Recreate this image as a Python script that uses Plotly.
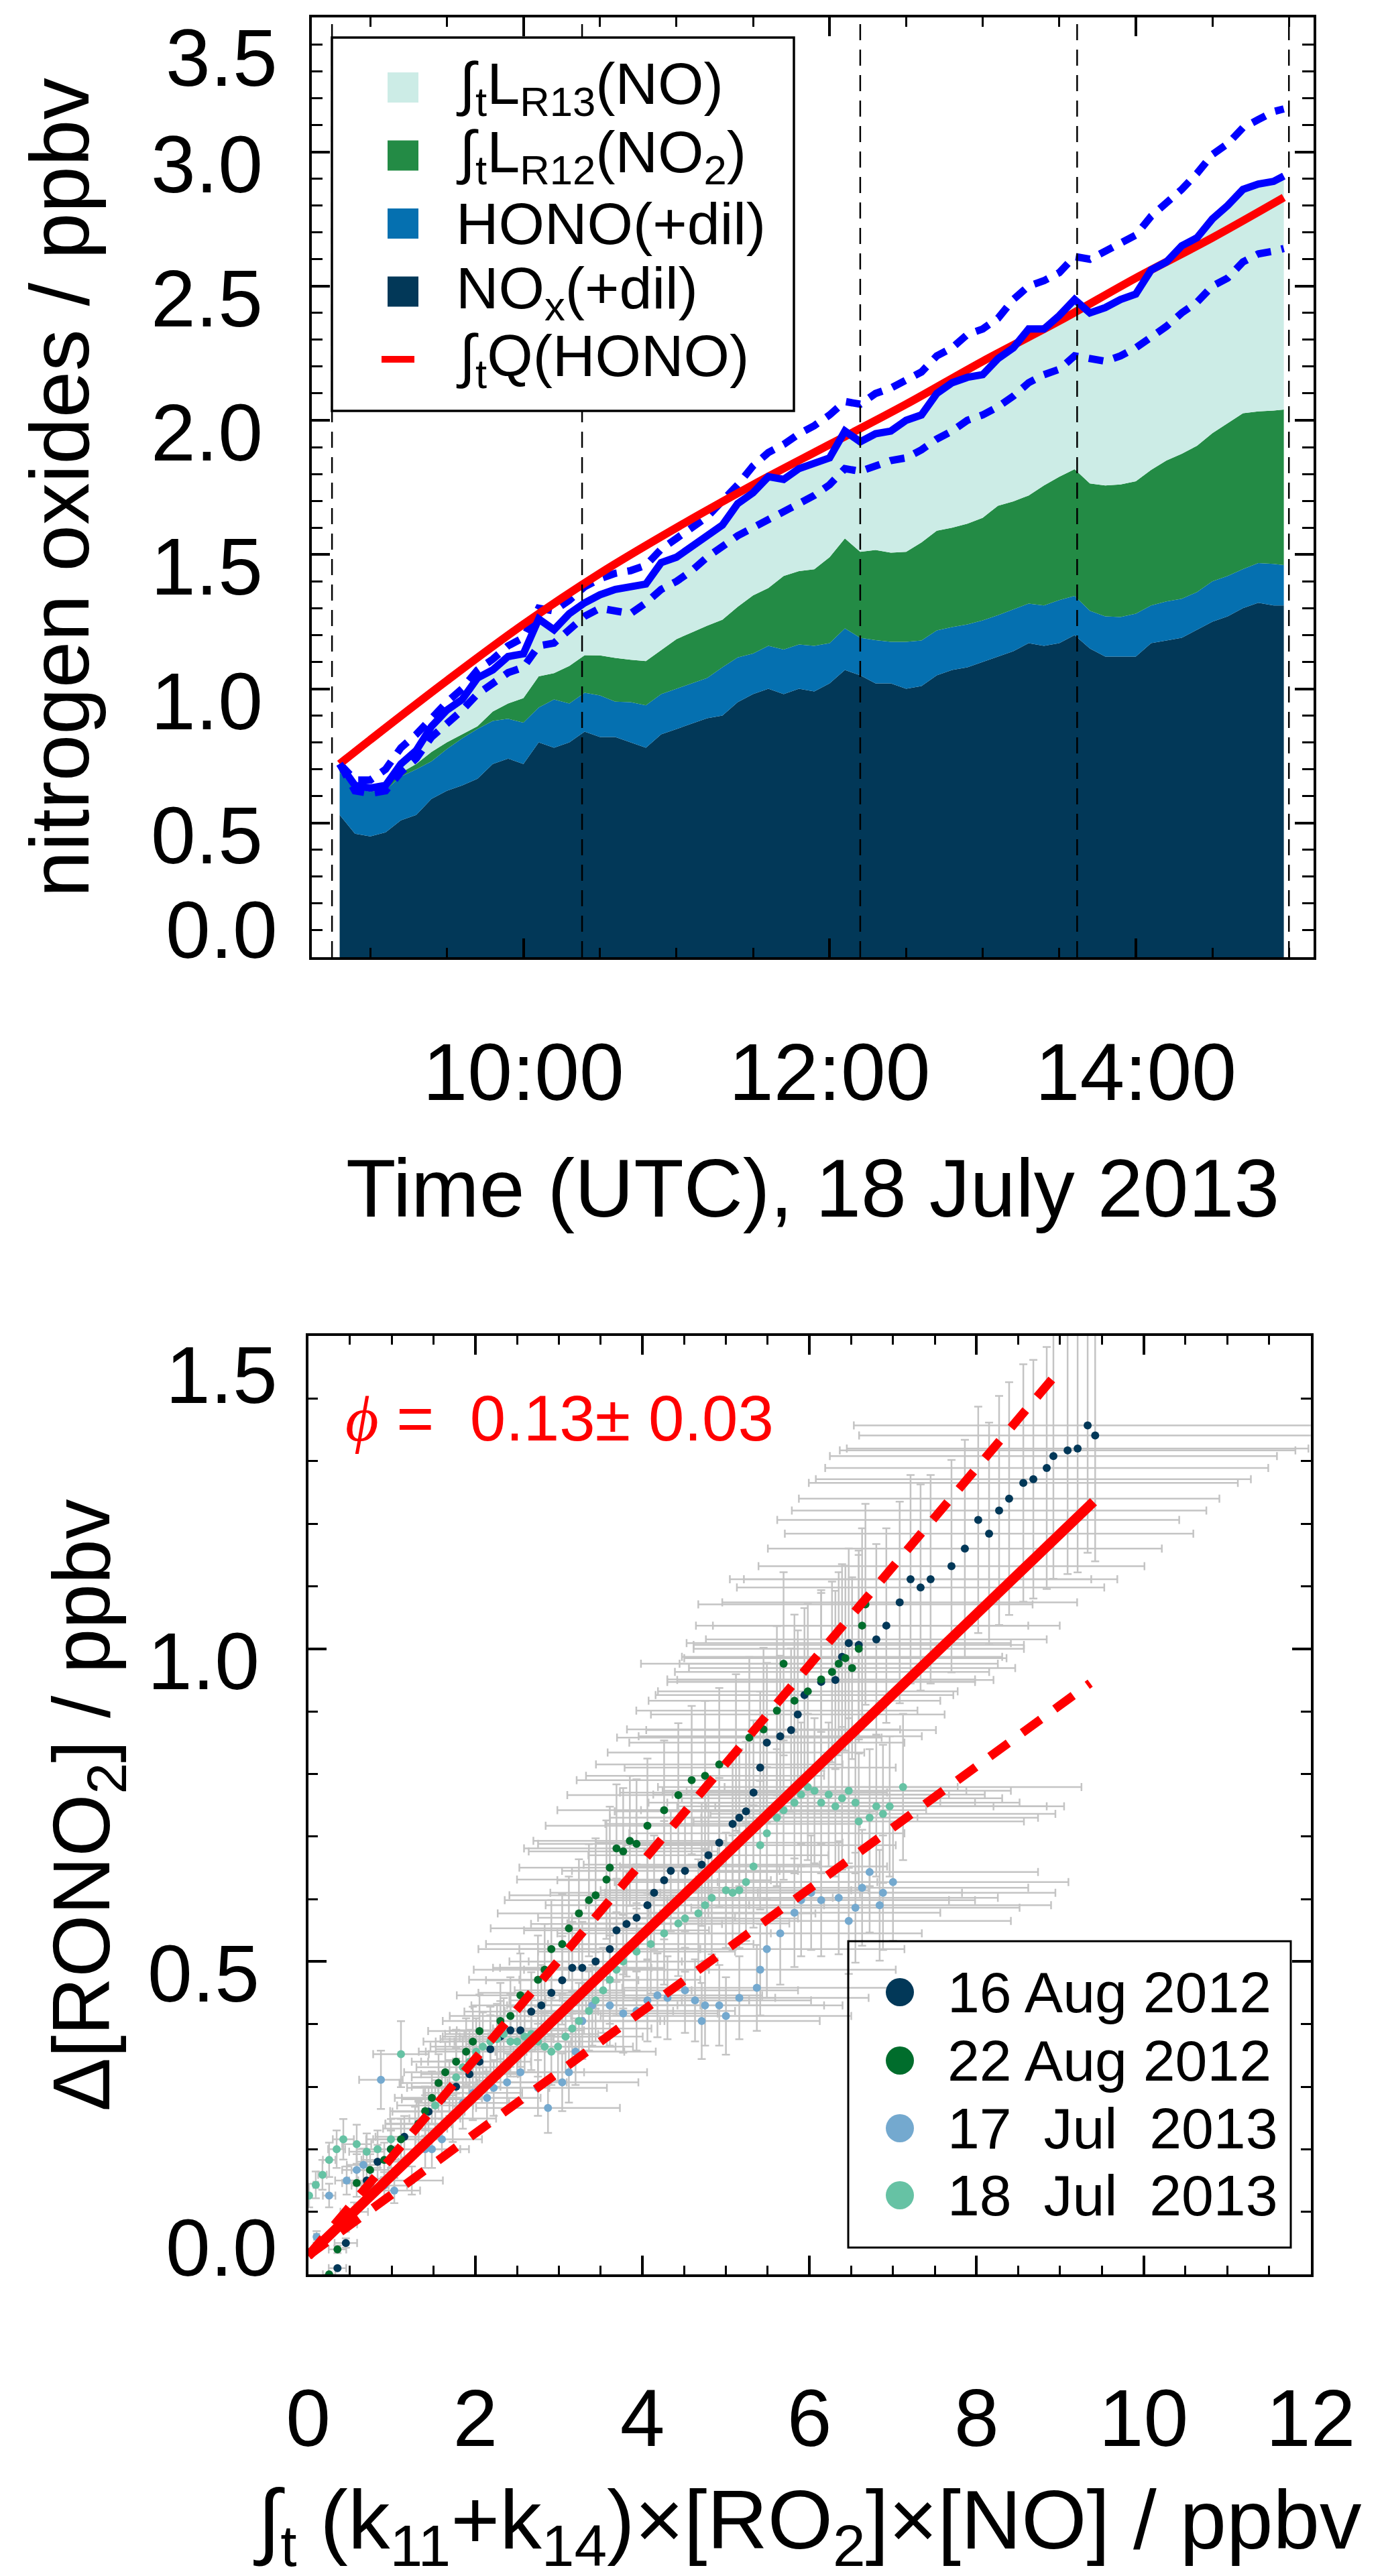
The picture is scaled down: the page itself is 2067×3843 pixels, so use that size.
import plotly.graph_objects as go

# ---------------- top panel data (18 July 2013) ----------------
times = ["08:48", "08:54", "09:00", "09:06", "09:12", "09:18", "09:24", "09:30", "09:36", "09:42",
         "09:48", "09:54", "10:00", "10:06", "10:12", "10:18", "10:24", "10:30", "10:36", "10:42",
         "10:48", "10:54", "11:00", "11:06", "11:12", "11:18", "11:24", "11:30", "11:36", "11:42",
         "11:48", "11:54", "12:00", "12:06", "12:12", "12:18", "12:24", "12:30", "12:36", "12:42",
         "12:48", "12:54", "13:00", "13:06", "13:12", "13:18", "13:24", "13:30", "13:36", "13:42",
         "13:48", "13:54", "14:00", "14:06", "14:12", "14:18", "14:24", "14:30", "14:36", "14:42",
         "14:48", "14:54", "14:58"]

# cumulative tops of the stacked areas (ppbv)
nox_top = [0.53, 0.46, 0.45, 0.465, 0.51, 0.53, 0.59, 0.62, 0.64, 0.665,
           0.72, 0.74, 0.72, 0.80, 0.78, 0.80, 0.84, 0.82, 0.82, 0.80,
           0.78, 0.83, 0.85, 0.87, 0.89, 0.90, 0.95, 0.98, 1.00, 0.98,
           1.00, 0.99, 1.02, 1.07, 1.05, 1.02, 1.02, 1.00, 1.01, 1.05,
           1.07, 1.08, 1.10, 1.12, 1.14, 1.17, 1.16, 1.17, 1.20, 1.15,
           1.12, 1.12, 1.12, 1.17, 1.18, 1.19, 1.22, 1.25, 1.27, 1.30,
           1.32, 1.31, 1.31]
hono_top = [0.687, 0.630, 0.616, 0.623, 0.673, 0.70, 0.73, 0.775, 0.815, 0.85,
            0.88, 0.888, 0.874, 0.93, 0.96, 0.945, 0.985, 0.975, 0.952, 0.95,
            0.938, 0.98, 1.00, 1.02, 1.04, 1.08, 1.117, 1.131, 1.16, 1.146,
            1.165, 1.16, 1.17, 1.225, 1.19, 1.181, 1.175, 1.175, 1.18, 1.217,
            1.23, 1.24, 1.255, 1.274, 1.295, 1.317, 1.31, 1.33, 1.346, 1.29,
            1.27, 1.267, 1.28, 1.31, 1.325, 1.335, 1.36, 1.40, 1.42, 1.446,
            1.468, 1.465, 1.461]
no2_top = [0.70, 0.635, 0.625, 0.635, 0.687, 0.72, 0.765, 0.80, 0.83, 0.86,
           0.915, 0.945, 0.965, 1.046, 1.058, 1.085, 1.125, 1.124, 1.115, 1.108,
           1.103, 1.145, 1.185, 1.21, 1.235, 1.257, 1.305, 1.348, 1.375, 1.42,
           1.438, 1.445, 1.49, 1.56, 1.51, 1.517, 1.507, 1.51, 1.545, 1.589,
           1.60, 1.615, 1.637, 1.682, 1.698, 1.72, 1.757, 1.79, 1.818, 1.765,
           1.757, 1.761, 1.773, 1.815, 1.85, 1.875, 1.905, 1.952, 1.99, 2.026,
           2.033, 2.036, 2.04]
total = [0.72, 0.64, 0.63, 0.64, 0.72, 0.77, 0.86, 0.92, 0.96, 1.04,
         1.07, 1.12, 1.13, 1.26, 1.22, 1.28, 1.32, 1.35, 1.37, 1.38,
         1.39, 1.47, 1.49, 1.53, 1.57, 1.61, 1.69, 1.73, 1.79, 1.78,
         1.82, 1.84, 1.86, 1.96, 1.92, 1.95, 1.96, 2.00, 2.02, 2.10,
         2.14, 2.16, 2.17, 2.23, 2.27, 2.34, 2.34, 2.39, 2.45, 2.40,
         2.42, 2.45, 2.47, 2.56, 2.59, 2.65, 2.68, 2.75, 2.80, 2.86,
         2.88, 2.89, 2.91]
total_hi = [0.72, 0.66, 0.66, 0.70, 0.78, 0.83, 0.89, 0.95, 1.00, 1.07,
            1.11, 1.16, 1.19, 1.30, 1.29, 1.33, 1.38, 1.41, 1.43, 1.44,
            1.46, 1.52, 1.56, 1.60, 1.64, 1.70, 1.76, 1.83, 1.88, 1.91,
            1.95, 1.98, 2.02, 2.07, 2.06, 2.10, 2.12, 2.15, 2.18, 2.24,
            2.27, 2.32, 2.34, 2.38, 2.45, 2.50, 2.52, 2.55, 2.61, 2.60,
            2.63, 2.66, 2.69, 2.76, 2.81, 2.86, 2.92, 2.99, 3.03, 3.09,
            3.12, 3.15, 3.16]
total_lo = [0.72, 0.62, 0.61, 0.62, 0.69, 0.74, 0.82, 0.87, 0.92, 0.98,
            1.02, 1.06, 1.08, 1.16, 1.17, 1.22, 1.27, 1.30, 1.29, 1.28,
            1.32, 1.37, 1.40, 1.44, 1.49, 1.53, 1.57, 1.60, 1.63, 1.66,
            1.69, 1.72, 1.76, 1.82, 1.81, 1.83, 1.85, 1.86, 1.89, 1.93,
            1.96, 2.00, 2.02, 2.05, 2.09, 2.14, 2.17, 2.19, 2.24, 2.23,
            2.22, 2.24, 2.27, 2.31, 2.35, 2.40, 2.44, 2.50, 2.53, 2.59,
            2.62, 2.63, 2.64]
q_times = ["08:48", "09:00", "09:30", "10:00", "10:30", "11:00", "11:30",
           "12:00", "12:30", "13:00", "13:30", "14:00", "14:30", "14:58"]
q_hono = [0.72, 0.81, 1.03, 1.24, 1.43, 1.60, 1.76, 1.91, 2.06, 2.22, 2.37, 2.53, 2.68, 2.83]
marker_times = ["08:45", "10:23", "12:12", "13:37", "15:00"]

top_yticks = [0.0, 0.5, 1.0, 1.5, 2.0, 2.5, 3.0, 3.5]
top_labels = ["∫<sub>t</sub>L<sub>R13</sub>(NO)", "∫<sub>t</sub>L<sub>R12</sub>(NO<sub>2</sub>)",
              "HONO(+dil)", "NO<sub>x</sub>(+dil)", "∫<sub>t</sub>Q(HONO)"]
top_colors = ["#ccece6", "#238b45", "#0570b0", "#023858", "#ff0000"]

# ---------------- bottom panel data ----------------
aug16_x = [0.35, 0.45, 0.55, 0.70, 0.83, 0.99, 1.15, 1.32, 1.44, 1.60, 1.77, 1.93, 2.05, 2.18, 2.30,
           2.42, 2.54, 2.67, 2.79, 2.91, 3.04, 3.16, 3.28, 3.44, 3.61, 3.69, 3.81, 3.93, 4.06, 4.14,
           4.26, 4.34, 4.51, 4.71, 4.79, 4.92, 5.08, 5.16, 5.24, 5.33, 5.41, 5.49, 5.65, 5.78, 5.86,
           5.94, 6.14, 6.31, 6.39, 6.47, 6.59, 6.80, 6.92, 7.08, 7.21, 7.33, 7.45, 7.70, 7.86, 8.02,
           8.15, 8.27, 8.39, 8.56, 8.68, 8.84, 8.92, 9.09, 9.21, 9.33, 9.42]
aug16_y = [0.01, 0.05, 0.10, 0.15, 0.18, 0.20, 0.22, 0.24, 0.26, 0.28, 0.30, 0.32, 0.34, 0.36, 0.38,
           0.39, 0.39, 0.42, 0.43, 0.45, 0.47, 0.49, 0.49, 0.50, 0.52, 0.55, 0.56, 0.57, 0.59, 0.61,
           0.63, 0.645, 0.645, 0.655, 0.67, 0.69, 0.72, 0.73, 0.74, 0.77, 0.81, 0.85, 0.86, 0.87, 0.895,
           0.926, 0.947, 0.95, 0.987, 1.009, 1.006, 1.015, 1.037, 1.074, 1.111, 1.098, 1.111, 1.132, 1.16, 1.206,
           1.184, 1.221, 1.24, 1.265, 1.271, 1.289, 1.308, 1.317, 1.32, 1.357, 1.341]
aug22_x = [0.25, 0.35, 0.45, 0.58, 0.74, 0.91, 0.99, 1.11, 1.32, 1.40, 1.48, 1.56, 1.64, 1.77, 1.89,
           1.97, 2.05, 2.30, 2.42, 2.54, 2.75, 2.83, 2.91, 3.04, 3.12, 3.24, 3.36, 3.44, 3.57, 3.61,
           3.69, 3.77, 3.85, 3.93, 4.06, 4.26, 4.43, 4.59, 4.75, 4.92, 5.12, 5.28, 5.45, 5.61, 5.69,
           5.82, 5.98, 6.14, 6.27, 6.35, 6.43, 6.51, 6.59, 6.63, 6.67]
aug22_y = [0.00, 0.04, 0.08, 0.146, 0.167, 0.183, 0.20, 0.216, 0.241, 0.261, 0.282, 0.306, 0.323, 0.34, 0.356,
           0.372, 0.389, 0.405, 0.413, 0.446, 0.471, 0.487, 0.52, 0.528, 0.553, 0.577, 0.598, 0.606, 0.631, 0.65,
           0.681, 0.676, 0.693, 0.688, 0.717, 0.742, 0.766, 0.79, 0.797, 0.815, 0.834, 0.858, 0.871, 0.901, 0.976,
           0.917, 0.932, 0.951, 0.963, 0.976, 0.985, 0.969, 1.00, 1.037, 1.071]
jul17_x = [0.10, 0.25, 0.46, 0.58, 0.66, 0.74, 0.91, 1.03, 1.24, 1.40, 1.48, 1.60, 1.73, 1.85, 1.97,
           2.14, 2.22, 2.38, 2.54, 2.75, 2.87, 3.04, 3.12, 3.20, 3.28, 3.40, 3.61, 3.77, 3.93, 4.06,
           4.18, 4.30, 4.51, 4.63, 4.71, 4.75, 4.92, 5.00, 5.16, 5.37, 5.41, 5.49, 5.65, 5.82, 5.90,
           6.02, 6.14, 6.35, 6.47, 6.55, 6.63, 6.72, 6.84, 6.88, 7.00, 0.87]
jul17_y = [0.06, 0.126, 0.15, 0.167, 0.175, 0.142, 0.142, 0.134, 0.15, 0.20, 0.20, 0.216, 0.249, 0.274, 0.29,
           0.282, 0.298, 0.307, 0.323, 0.298, 0.266, 0.307, 0.323, 0.356, 0.405, 0.43, 0.43, 0.417, 0.421, 0.438,
           0.446, 0.442, 0.454, 0.438, 0.405, 0.43, 0.43, 0.413, 0.442, 0.458, 0.487, 0.52, 0.545, 0.578, 0.598,
           0.61, 0.598, 0.602, 0.565, 0.586, 0.618, 0.643, 0.59, 0.61, 0.627, 0.311]
jul18_x = [0.01, 0.09, 0.17, 0.25, 0.34, 0.42, 0.58, 0.70, 0.83, 0.99, 1.28, 1.40, 1.52, 1.60, 1.69,
           1.77, 1.85, 1.93, 2.01, 2.09, 2.18, 2.26, 2.34, 2.42, 2.50, 2.59, 2.67, 2.75, 2.83, 2.91,
           2.99, 3.08, 3.16, 3.24, 3.36, 3.44, 3.53, 3.61, 3.69, 3.77, 3.93, 4.10, 4.26, 4.43, 4.51,
           4.67, 4.75, 4.83, 5.00, 5.08, 5.16, 5.24, 5.33, 5.41, 5.49, 5.61, 5.69, 5.82, 5.90, 5.98,
           6.06, 6.14, 6.23, 6.31, 6.39, 6.47, 6.55, 6.59, 6.72, 6.80, 6.88, 6.96, 7.12, 1.11]
jul18_y = [0.126, 0.143, 0.159, 0.183, 0.20, 0.216, 0.208, 0.196, 0.20, 0.216, 0.233, 0.249, 0.27, 0.282, 0.298,
           0.315, 0.331, 0.34, 0.356, 0.364, 0.372, 0.376, 0.384, 0.372, 0.372, 0.38, 0.384, 0.372, 0.364, 0.356,
           0.364, 0.38, 0.393, 0.405, 0.421, 0.438, 0.454, 0.471, 0.487, 0.50, 0.516, 0.528, 0.545, 0.561, 0.569,
           0.577, 0.59, 0.602, 0.614, 0.61, 0.614, 0.627, 0.652, 0.686, 0.705, 0.73, 0.742, 0.754, 0.767, 0.779,
           0.773, 0.754, 0.767, 0.748, 0.761, 0.773, 0.754, 0.724, 0.73, 0.748, 0.736, 0.748, 0.779, 0.352]

fit_x = [0.0, 9.4]
fit_y = [0.03, 1.235]
fit_hi_x = [0.0, 9.0]
fit_hi_y = [0.03, 1.446]
fit_lo_x = [0.0, 9.36]
fit_lo_y = [0.03, 0.945]

bot_yticks = [0.0, 0.5, 1.0, 1.5]
day_names = ["16 Aug 2012", "22 Aug 2012", "17\u00a0 Jul\u00a0 2013", "18\u00a0 Jul\u00a0 2013"]
day_colors = ["#023858", "#006d2c", "#74a9cf", "#66c2a4"]

FONT = "Liberation Sans, Arial, Helvetica, sans-serif"
W, H = 2067, 3843


def px(x):
    return x / W


def py(y):
    return 1 - y / H


def inner_labels(vals):
    # IDL-style axis: end labels are drawn separately, pulled inside the frame
    return ["" if v in (vals[0], vals[-1]) else f"{v:.1f}" for v in vals]


day = "2013-07-18 "
tt = [day + t for t in times]

fig = go.Figure()

# stacked areas
fig.add_trace(go.Scatter(x=tt, y=nox_top, mode="lines", line=dict(width=0),
                         fill="tozeroy", fillcolor="#023858"))
fig.add_trace(go.Scatter(x=tt, y=hono_top, mode="lines", line=dict(width=0),
                         fill="tonexty", fillcolor="#0570b0"))
fig.add_trace(go.Scatter(x=tt, y=no2_top, mode="lines", line=dict(width=0),
                         fill="tonexty", fillcolor="#238b45"))
fig.add_trace(go.Scatter(x=tt, y=total, mode="lines", line=dict(width=0),
                         fill="tonexty", fillcolor="#ccece6"))
# uncertainty and total lines
for arr in (total_hi, total_lo):
    fig.add_trace(go.Scatter(x=tt, y=arr, mode="lines",
                             line=dict(color="#0000ff", width=11, dash="22px,16px")))
fig.add_trace(go.Scatter(x=[day + t for t in q_times], y=q_hono, mode="lines",
                         line=dict(color="#ff0000", width=12, shape="spline")))
fig.add_trace(go.Scatter(x=tt, y=total, mode="lines", line=dict(color="#0000ff", width=11)))

for t in marker_times:
    fig.add_shape(type="line", xref="x", yref="y domain", x0=day + t, x1=day + t, y0=0, y1=1,
                  line=dict(color="black", width=2.5, dash="24px,14px"))

# bottom panel: error bars first, then dots, then fit lines
series = [(aug16_x, aug16_y), (aug22_x, aug22_y), (jul17_x, jul17_y), (jul18_x, jul18_y)]
for sx, sy in series:
    fig.add_trace(go.Scatter(x=sx, y=sy, mode="markers", xaxis="x2", yaxis="y2",
                             marker=dict(size=2, color="rgba(0,0,0,0)"),
                             error_x=dict(type="percent", value=30, color="#c4c4c4", thickness=2.5, width=6),
                             error_y=dict(type="percent", value=15, color="#c4c4c4", thickness=2.5, width=6)))
for (sx, sy), c in zip(series, day_colors):
    fig.add_trace(go.Scatter(x=sx, y=sy, mode="markers", xaxis="x2", yaxis="y2",
                             marker=dict(size=12, color=c)))
fig.add_trace(go.Scatter(x=fit_hi_x, y=fit_hi_y, mode="lines", xaxis="x2", yaxis="y2",
                         line=dict(color="#ff0000", width=13, dash="34px,26px")))
fig.add_trace(go.Scatter(x=fit_lo_x, y=fit_lo_y, mode="lines", xaxis="x2", yaxis="y2",
                         line=dict(color="#ff0000", width=13, dash="34px,26px")))
fig.add_trace(go.Scatter(x=fit_x, y=fit_y, mode="lines", xaxis="x2", yaxis="y2",
                         line=dict(color="#ff0000", width=15)))

axis_style = dict(showline=True, linewidth=3.5, linecolor="black", mirror="allticks",
                  ticks="inside", ticklen=28, tickwidth=3.5, tickcolor="black",
                  showgrid=False, zeroline=False, automargin=False, ticklabeloverflow="allow",
                  tickfont=dict(size=120, family=FONT, color="black"))
minor_style = dict(ticks="inside", ticklen=14, tickwidth=3, tickcolor="black", showgrid=False)

fig.update_layout(
    width=W, height=H, margin=dict(l=0, r=0, t=0, b=0, pad=0, autoexpand=False),
    paper_bgcolor="white", plot_bgcolor="white", showlegend=False,
    font=dict(family=FONT, color="black"),
    xaxis=dict(axis_style, type="date", domain=[px(456.7), px(1951)],
               range=[day + "08:37:00", day + "15:09:40"],
               tick0=day + "00:00", dtick=7200000, tickformat="%H:%M",
               minor=dict(minor_style, dtick=1800000), ticklabelstandoff=65),
    yaxis=dict(axis_style, domain=[py(1420), py(18.3)], range=[0, 3.5],
               tickvals=top_yticks, ticktext=inner_labels(top_yticks),
               minor=dict(minor_style, dtick=0.1, ticklen=17),
               ticklabelstandoff=45, ticklabelshift=18),
    xaxis2=dict(axis_style, anchor="y2", domain=[px(451.7), px(1946.7)], range=[0, 12], dtick=2,
                minor=dict(minor_style, dtick=0.5, ticklen=13), ticklabelstandoff=108),
    yaxis2=dict(axis_style, anchor="x2", domain=[py(3385), py(1985)], range=[0, 1.5],
                tickvals=bot_yticks, ticktext=inner_labels(bot_yticks),
                minor=dict(minor_style, dtick=0.1, ticklen=15),
                ticklabelstandoff=45, ticklabelshift=18),
)

# end labels of the y axes, pulled inside the frame as in the original
end_labels = [(f"{top_yticks[-1]:.1f}", 78), (f"{top_yticks[0]:.1f}", 1379),
              (f"{bot_yticks[-1]:.1f}", 2043), (f"{bot_yticks[0]:.1f}", 3345)]
for txt, yc in end_labels:
    fig.add_annotation(text=txt, x=px(408), y=py(yc), xref="paper", yref="paper", showarrow=False,
                       xanchor="right", yanchor="middle", font=dict(size=120, family=FONT, color="black"))

# axis titles
ann = [
    dict(text="nitrogen oxides / ppbv", x=px(80), y=py(719), textangle=-90, size=125),
    dict(text="Time (UTC), 18 July 2013", x=px(1204), y=py(1765), textangle=0, size=122),
    dict(text="Δ[RONO<sub>2</sub>] / ppbv", x=px(122), y=py(2685), textangle=-90, size=120),
    dict(text="∫<sub>t</sub> (k<sub>11</sub>+k<sub>14</sub>)×[RO<sub>2</sub>]×[NO] / ppbv",
         x=px(1196), y=py(3760), textangle=0, size=125),
]
for a in ann:
    fig.add_annotation(text=a["text"], x=a["x"], y=a["y"], xref="paper", yref="paper",
                       textangle=a["textangle"], showarrow=False, xanchor="center", yanchor="middle",
                       font=dict(size=a["size"], family=FONT, color="black"))

# phi annotation
fig.add_annotation(text="<span style='font-family:\"Liberation Serif\", serif'><i>ϕ</i></span> =\u00a0 0.13± 0.03",
                   x=px(505), y=py(2108), xref="paper", yref="paper", showarrow=False,
                   xanchor="left", yanchor="middle", font=dict(size=96, family=FONT, color="#ff0000"))

# top legend (drawn by hand so that swatches keep the reference size)
fig.add_shape(type="rect", xref="paper", yref="paper", x0=px(487), x1=px(1176), y0=py(605), y1=py(48),
              line=dict(color="black", width=3.5), fillcolor="white", layer="above")
top_rows = [122.5, 224, 325.5, 427, 528]
for i, (lab, col, yc) in enumerate(zip(top_labels, top_colors, top_rows)):
    if i < 4:
        fig.add_shape(type="rect", xref="paper", yref="paper", x0=px(570), x1=px(616),
                      y0=py(yc + 22.5), y1=py(yc - 22.5), line=dict(width=0), fillcolor=col)
    else:
        fig.add_shape(type="line", xref="paper", yref="paper", x0=px(561), x1=px(610),
                      y0=py(yc), y1=py(yc), line=dict(color=col, width=10))
    fig.add_annotation(text=lab, x=px(670), y=py(yc), xref="paper", yref="paper", showarrow=False,
                       xanchor="left", yanchor="middle", font=dict(size=88, family=FONT, color="black"))

# bottom legend
fig.add_shape(type="rect", xref="paper", yref="paper", x0=px(1257), x1=px(1917), y0=py(3345), y1=py(2888),
              line=dict(color="black", width=3), fillcolor="rgba(0,0,0,0)", layer="above")
bot_rows = [2964, 3066, 3167, 3267]
for lab, col, yc in zip(day_names, day_colors, bot_rows):
    fig.add_shape(type="circle", xref="paper", yref="paper", x0=px(1313), x1=px(1355),
                  y0=py(yc + 21), y1=py(yc - 21), line=dict(width=0), fillcolor=col)
    fig.add_annotation(text=lab, x=px(1403), y=py(yc), xref="paper", yref="paper", showarrow=False,
                       xanchor="left", yanchor="middle", font=dict(size=86, family=FONT, color="black"))

fig.write_html("out.html")
